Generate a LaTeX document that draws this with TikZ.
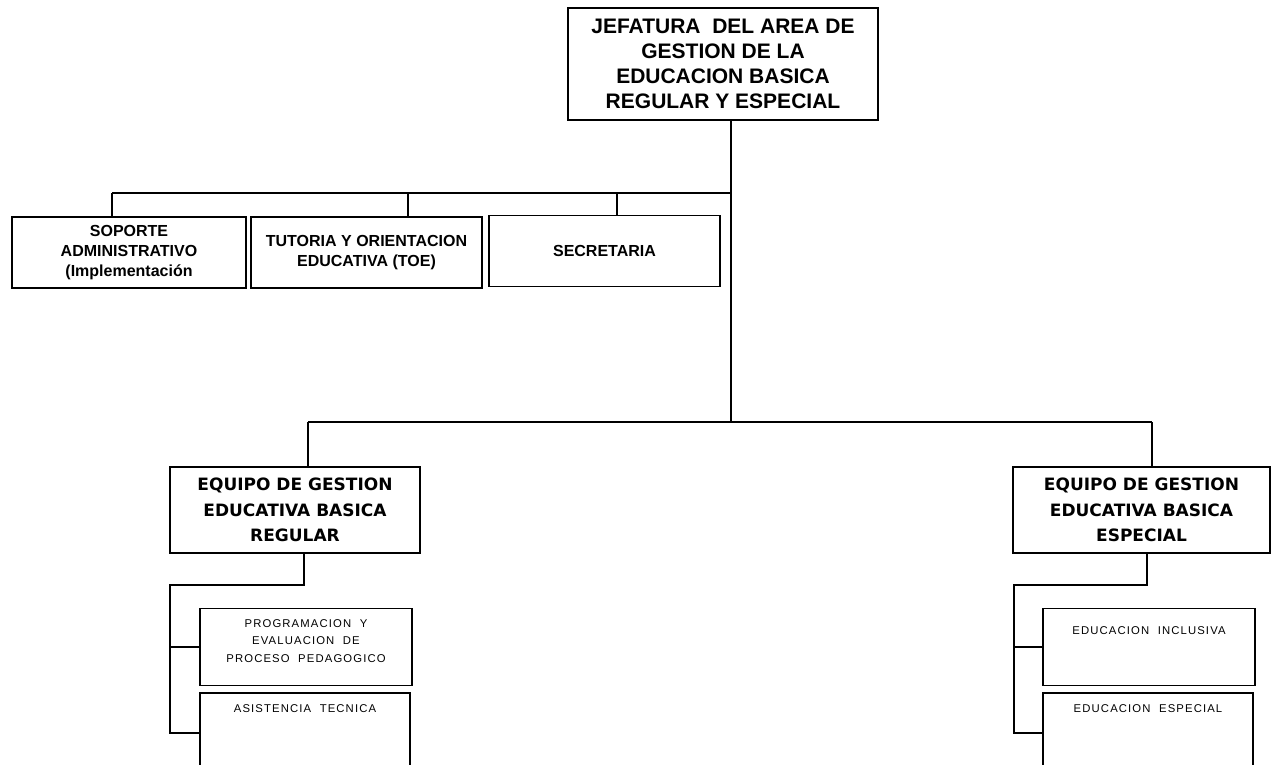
\documentclass[tikz,border=0pt]{standalone}
\usepackage{fontspec}
\setmainfont{Liberation Sans}
\newfontfamily\widefont{DejaVu Sans}
\newfontfamily\subfont[LetterSpace=10]{Liberation Sans}
\usetikzlibrary{positioning, calc}

\begin{document}
\begin{tikzpicture}[
    x=1pt, y=-1pt,
    % Box Styles
    box/.style={rectangle, draw=black, line width=1.4pt, fill=white, inner sep=0pt, align=center},
    headbox/.style={box, minimum width=310pt, minimum height=112pt, font=\bfseries\fontsize{21}{25}\selectfont},
    staffbox/.style={box, minimum height=71pt, font=\bfseries\fontsize{16}{20}\selectfont},
    teambox/.style={box, minimum height=86pt, font=\widefont\bfseries\fontsize{17}{25.5}\selectfont},
    unitbox/.style={box, minimum width=212pt, minimum height=77pt},
    unittext/.style={anchor=north, align=center, font=\subfont\fontsize{11.3}{17.5}\selectfont},
    % Connector Style
    link/.style={draw=black, line width=1.4pt}
]

% Page frame
\useasboundingbox[fill=white] (0,0) rectangle (1274,765);
\clip (0,0) rectangle (1274,765);

% Head of the area
\node[headbox] (jefatura) at (723,64) {JEFATURA\ \ DEL AREA DE\\GESTION DE LA\\EDUCACION BASICA\\REGULAR Y ESPECIAL};

% Staff row
\node[staffbox, minimum width=234pt] (soporte) at (129,252.5) {SOPORTE\\ADMINISTRATIVO\\(Implementación};
\node[staffbox, minimum width=231pt] (tutoria) at (366.5,252.5) {TUTORIA Y ORIENTACION\\EDUCATIVA (TOE)};
\node[staffbox, minimum width=231pt] (secretaria) at (604.5,251) {SECRETARIA};

% Teams
\node[teambox, minimum width=250pt] (regular) at (295,510) {EQUIPO DE GESTION\\EDUCATIVA BASICA\\REGULAR};
\node[teambox, minimum width=257pt] (especial) at (1141.5,510) {EQUIPO DE GESTION\\EDUCATIVA BASICA\\ESPECIAL};

% Units under each team
\node[unitbox, label={[unittext, yshift=-8pt]north:PROGRAMACION\ \ Y\\EVALUACION\ \ DE\\PROCESO\ \ PEDAGOGICO}] (programacion) at (306,647) {};
\node[unitbox, minimum width=210pt, minimum height=80pt, label={[unittext, yshift=-9pt]north:ASISTENCIA\ \ TECNICA}] (asistencia) at (305,733) {};
\node[unitbox, label={[unittext, yshift=-15pt]north:EDUCACION\ \ INCLUSIVA}] (inclusiva) at (1149,647) {};
\node[unitbox, minimum width=210pt, minimum height=80pt, label={[unittext, yshift=-9pt]north:EDUCACION\ \ ESPECIAL}] (educespecial) at (1148,733) {};

% Buses
\coordinate (staffbus) at (731,193);
\coordinate (teambus) at (731,422);
\draw[link] (jefatura.south -| teambus) -- (teambus);

\foreach \n/\x in {soporte/112, tutoria/408, secretaria/617} {
    \coordinate (drop-\n) at (\x,193);
    \draw[link] (drop-\n) -- (drop-\n |- \n.north);
}
\draw[link] (drop-soporte) -- (staffbus);

\foreach \n/\x in {regular/308, especial/1152} {
    \coordinate (drop-\n) at (\x,422);
    \draw[link] (drop-\n) -- (drop-\n |- \n.north);
}
\draw[link] (drop-regular) -- (drop-especial);

% Team to unit rails
\coordinate (stem-regular) at (304,585);
\coordinate (rail-regular) at (170,585);
\draw[link] (regular.south -| stem-regular) -- (stem-regular) -- (rail-regular) -- (rail-regular |- asistencia.west) -- (asistencia.west);
\draw[link] (rail-regular |- programacion.west) -- (programacion.west);

\coordinate (stem-especial) at (1147,585);
\coordinate (rail-especial) at (1014,585);
\draw[link] (especial.south -| stem-especial) -- (stem-especial) -- (rail-especial) -- (rail-especial |- educespecial.west) -- (educespecial.west);
\draw[link] (rail-especial |- inclusiva.west) -- (inclusiva.west);

\end{tikzpicture}
\end{document}
